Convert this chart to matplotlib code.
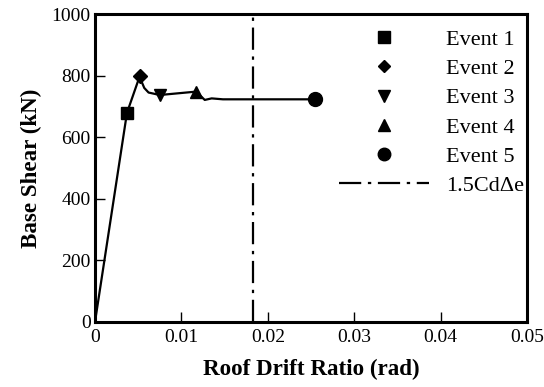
import matplotlib
matplotlib.use("Agg")
import matplotlib.pyplot as plt
from matplotlib.lines import Line2D

plt.rcParams['font.family'] = ['Liberation Serif', 'DejaVu Serif']

# pushover curve (roof drift ratio, base shear kN)
curve_x = [0, 0.0037, 0.0052, 0.0054, 0.0057, 0.0062, 0.0075, 0.0117, 0.0127, 0.0135, 0.0148, 0.0183, 0.0255]
curve_y = [0, 679, 800, 780, 760, 745, 737, 748, 721, 726, 723, 723, 723]

# event points
event_names = ['Event 1', 'Event 2', 'Event 3', 'Event 4', 'Event 5']
event_x = [0.0037, 0.0052, 0.0075, 0.0117, 0.0255]
event_y = [679, 800, 737, 748, 723]
event_markers = ['s', 'D', 'v', '^', 'o']
event_sizes = [9, 7, 9, 9, 10]

limit_x = 0.01828
limit_label = '1.5Cd\u0394e'

fig = plt.figure(figsize=(5.44, 3.87), dpi=100)
ax = fig.add_axes([0.1746, 0.168, 0.7944, 0.7958])

ax.plot(curve_x, curve_y, color='black', lw=1.6)
handles = []
for nm, ex, ey, mk, ms in zip(event_names, event_x, event_y, event_markers, event_sizes):
    ax.plot([ex], [ey], marker=mk, ms=ms, color='black', ls='none')
    handles.append(Line2D([], [], marker=mk, ms=ms * 0.9, color='black', ls='none', label=nm))

dashdot = (0, (10, 3, 1.5, 3))
ax.axvline(limit_x, color='black', lw=1.6, ls=dashdot)
handles.append(Line2D([], [], color='black', lw=1.6, ls=dashdot, label=limit_label))

ax.set_xlim(0, 0.05)
ax.set_ylim(0, 1000)
ax.set_xticks([0, 0.01, 0.02, 0.03, 0.04, 0.05])
ax.set_xticklabels(['0', '0.01', '0.02', '0.03', '0.04', '0.05'])
ax.set_yticks([0, 200, 400, 600, 800, 1000])
ax.tick_params(direction='in', length=7, width=1, labelsize=14, top=False, right=False)
ax.tick_params(axis='x', pad=5)
ax.tick_params(axis='y', pad=3)
for sp in ax.spines.values():
    sp.set_linewidth(2.2)

ax.set_xlabel('Roof Drift Ratio (rad)', fontsize=16.6, fontweight='bold', labelpad=9)
ax.set_ylabel('Base Shear (kN)', fontsize=16.6, fontweight='bold', labelpad=7)

leg = ax.legend(handles=handles, loc='upper left', frameon=False, fontsize=16,
                handlelength=4.05, handletextpad=0.77, labelspacing=0.39,
                bbox_to_anchor=(0.518, 1.015))

fig.savefig('out.png', dpi=100)
